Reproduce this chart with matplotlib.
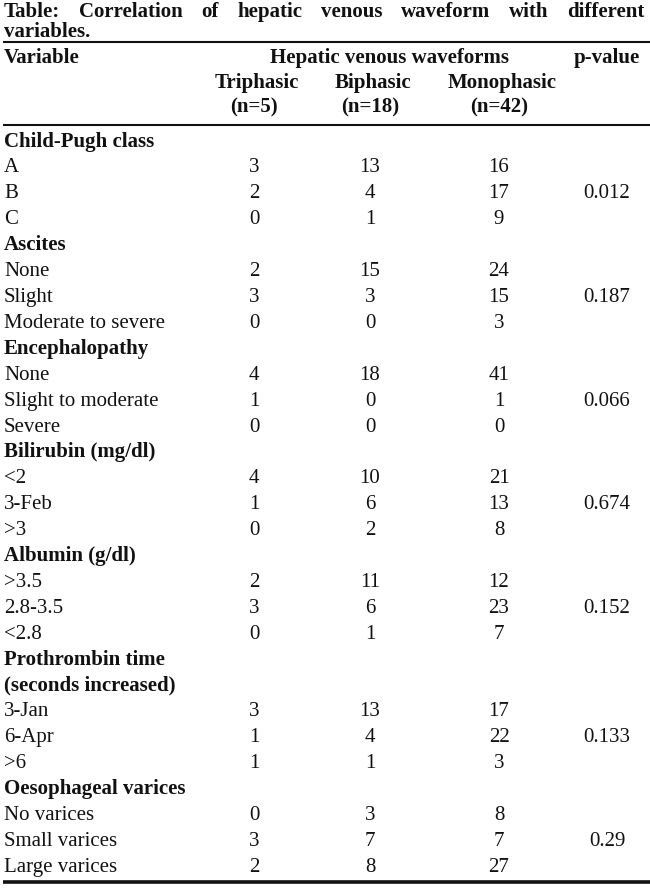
import matplotlib
matplotlib.use("Agg")
import matplotlib.pyplot as plt

# ---------------- data ----------------
title_line1 = "Table: Correlation of hepatic venous waveform with different"
title_line2 = "variables."
header_variable = "Variable"
header_group = "Hepatic venous waveforms"
header_p = "p-value"
waveforms = ["Triphasic", "Biphasic", "Monophasic"]
group_sizes = ["(n=5)", "(n=18)", "(n=42)"]

sections = ["Child-Pugh class", "Ascites", "Encephalopathy", "Bilirubin (mg/dl)",
            "Albumin (g/dl)", "Prothrombin time\n(seconds increased)", "Oesophageal varices"]
row_labels = [
    ["A", "B", "C"],
    ["None", "Slight", "Moderate to severe"],
    ["None", "Slight to moderate", "Severe"],
    ["<2", "3-Feb", ">3"],
    [">3.5", "2.8-3.5", "<2.8"],
    ["3-Jan", "6-Apr", ">6"],
    ["No varices", "Small varices", "Large varices"],
]
triphasic = [[3, 2, 0], [2, 3, 0], [4, 1, 0], [4, 1, 0], [2, 3, 0], [3, 1, 1], [0, 3, 2]]
biphasic = [[13, 4, 1], [15, 3, 0], [18, 0, 0], [10, 6, 2], [11, 6, 1], [13, 4, 1], [3, 7, 8]]
monophasic = [[16, 17, 9], [24, 15, 3], [41, 1, 0], [21, 13, 8], [12, 23, 7], [17, 22, 3], [8, 7, 27]]
p_values = ["0.012", "0.187", "0.066", "0.674", "0.152", "0.133", "0.29"]

# ---------------- layout ----------------
W, H = 650, 893
plt.rcParams['font.family'] = ['Liberation Serif', 'DejaVu Serif']
fig = plt.figure(figsize=(W / 100, H / 100), dpi=100)
ax = fig.add_axes([0, 0, 1, 1])
ax.set_xlim(0, W)
ax.set_ylim(H, 0)
ax.axis('off')

FS = 15
INK = "#111111"
col_x = [254, 370, 499]
p_x = 607
left_x = 4
row0_y = 140.0
row_step = 25.9
base_off = 6.6  # center -> baseline offset in px


def put(x, yc, s, ha='left', bold=False, fs=FS):
    return ax.text(x, yc + base_off, s, ha=ha, va='baseline', fontsize=fs,
                   fontweight='bold' if bold else 'normal', color=INK)


# title, justified line 1
renderer = fig.canvas.get_renderer()
words = title_line1.split(" ")
tw = []
for w in words:
    t = put(0, 10, w, bold=True)
    tw.append(t.get_window_extent(renderer).width)
    t.remove()
x0, x1 = 4, 644
gap = (x1 - x0 - sum(tw)) / (len(words) - 1)
x = x0
for w, wd in zip(words, tw):
    put(x, 10, w, bold=True)
    x += wd + gap
put(x0, 30, title_line2, bold=True)

# rules
ax.plot([3, W], [42, 42], color=INK, lw=1.5, solid_capstyle='butt')
ax.plot([3, W], [125, 125], color=INK, lw=1.5, solid_capstyle='butt')

# header
put(left_x, 56, header_variable, bold=True)
put(390, 56, header_group, ha='center', bold=True)
put(p_x, 56, header_p, ha='center', bold=True)
for cx, name, n in zip(col_x, waveforms, group_sizes):
    put(cx + 3, 81, name, ha='center', bold=True)
    put(cx, 106, n, ha='center', bold=True)

# body
i = 0
for s, labels, tri, bi, mono, p in zip(sections, row_labels, triphasic, biphasic,
                                        monophasic, p_values):
    for part in s.split("\n"):
        put(left_x, row0_y + i * row_step, part, bold=True)
        i += 1
    for k, lab in enumerate(labels):
        y = row0_y + i * row_step
        put(left_x, y, lab)
        for cx, val in zip(col_x, (tri[k], bi[k], mono[k])):
            put(cx, y, str(val), ha='center')
        if k == 1:
            put(p_x, y, p, ha='center')
        i += 1

ax.plot([3, W], [882, 882], color=INK, lw=2.6, solid_capstyle='butt')

fig.savefig("out.png", dpi=100)
